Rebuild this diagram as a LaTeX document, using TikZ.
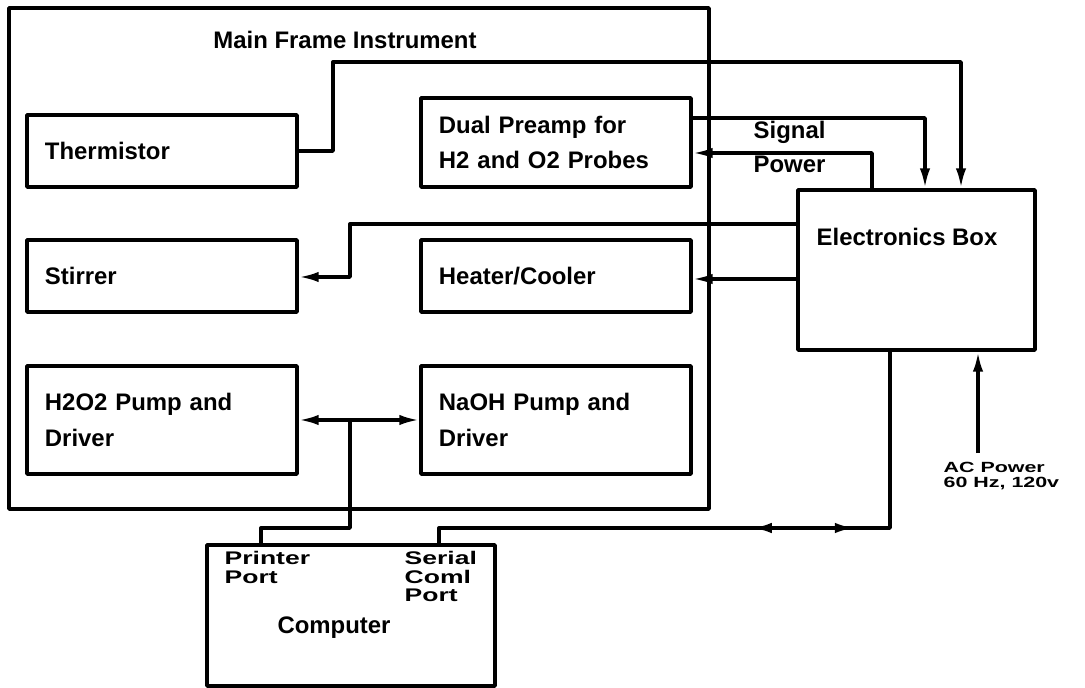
\documentclass[tikz,border=0pt]{standalone}
\usepackage{fontspec}
\setmainfont{Liberation Sans}
\newfontfamily\widefont{Liberation Sans}[FakeStretch=1.45]
\usetikzlibrary{arrows.meta,positioning,decorations.markings}

\begin{document}
\begin{tikzpicture}[x=0.025cm,y=-0.025cm,
        line width=2.4pt,line join=round,
        box/.style={draw,inner xsep=0.45cm,text width=5.85cm,align=left,
                    font=\fontsize{17}{25}\selectfont\bfseries},
        frm/.style={draw,inner sep=0pt},
        txt/.style={inner sep=0pt,align=left,font=\fontsize{17}{25}\selectfont\bfseries},
        port/.style={inner sep=0pt,align=left,font=\widefont\fontsize{13}{13}\selectfont\bfseries},
        arr/.style={-{Latex[length=5mm,width=2.6mm]}},
        dbl/.style={{Latex[length=5mm,width=2.6mm]}-{Latex[length=5mm,width=2.6mm]}},
        midarr/.style={postaction={decorate},decoration={markings,
            mark=at position 8.2cm with {\arrowreversed{Latex[length=5mm,width=2.6mm]}},
            mark=at position 10.775cm with {\arrow{Latex[length=5mm,width=2.6mm]}}}}
      ]
        \useasboundingbox (0,0) rectangle (1085,688);
        % main frame and its modules
        \node[frm,minimum width=17.5cm,minimum height=12.525cm] (frame) at (359,258.5) {};
        \node[txt] (title) at (345,40) {Main Frame Instrument};
        \node[box,minimum height=1.8cm] (therm) at (162,151) {Thermistor};
        \node[box,minimum height=2.225cm] (preamp) at (556,142.5) {Dual Preamp for\\H2 and O2 Probes};
        \node[box,minimum height=1.8cm] (stir) at (162,276) {Stirrer};
        \node[box,minimum height=1.8cm] (heat) at (556,276) {Heater/Cooler};
        \node[box,minimum height=2.7cm] (hpump) at (162,420) {H2O2 Pump and\\Driver};
        \node[box,minimum height=2.7cm] (npump) at (556,420) {NaOH Pump and\\Driver};
        % electronics box
        \node[frm,minimum width=5.925cm,minimum height=4cm] (ebox) at (916.5,270) {};
        \node[txt,anchor=west] (ebtxt) at (815,237) {Electronics Box};
        % computer
        \node[frm,minimum width=7.2cm,minimum height=3.525cm] (comp) at (351,615.5) {};
        \node[port,anchor=north west] (pport) at (223,550) {Printer\\Port};
        \node[port,anchor=north west] (sport) at (403,550) {Serial\\Coml\\Port};
        \node[txt] (comptxt) at (334,628) {Computer};
        % mains input
        \coordinate (acin) at (978,453);
        \node[port,font=\widefont\fontsize{10.5}{10.5}\selectfont\bfseries,anchor=north west] (actxt) at (942,461) {AC Power\\60 Hz, 120v};
        % connectors
        \draw[arr] (therm.east) -- (333,151) |- (961,62) -- (961,0 |- ebox.north);
        \draw[arr] (preamp.east |- 0,118) -- (925,118) -- (925,0 |- ebox.north);
        \draw[arr] (872,0 |- ebox.north) |- (preamp.east |- 0,153);
        \node[txt,anchor=west] (siglbl) at (752,132) {Signal};
        \node[txt,anchor=west] (pwrlbl) at (752,164) {Power};
        \draw[arr] (ebox.west |- 0,224) -- (350,224) |- (stir.east |- 0,277);
        \draw[arr] (ebox.west |- 0,279) -- (heat.east |- 0,279);
        \draw[dbl] (hpump.east) -- (npump.west);
        \coordinate (tap) at (350,420);
        \draw (tap) -- (350,528) -| (261,0 |- comp.north);
        \draw[midarr] (439,0 |- comp.north) |- (890,528) -- (890,0 |- ebox.south);
        \draw[arr] (acin) -- (978,0 |- ebox.south);
      \end{tikzpicture}
\end{document}
